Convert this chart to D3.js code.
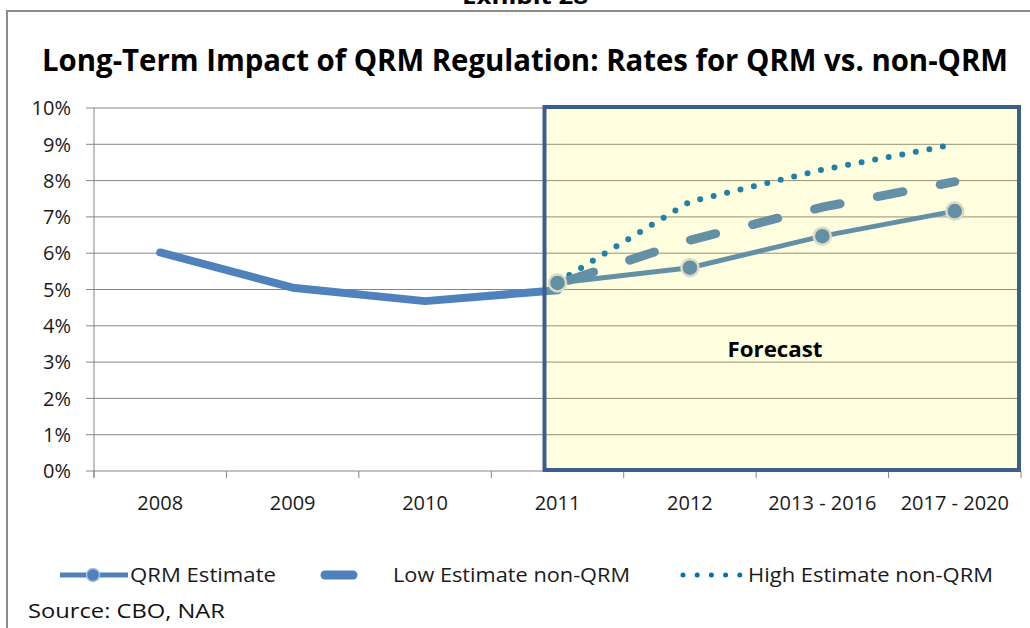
<!DOCTYPE html>
<html><head><meta charset="utf-8">
<script src="https://cdn.jsdelivr.net/npm/d3@7/dist/d3.min.js"></script>
<style>body{margin:0;background:#fff;}svg{display:block;font-family:"Open Sans","Noto Sans",sans-serif;}</style>
</head><body>
<svg id="c" width="1030" height="628"></svg>
<script>
const categories = ["2008","2009","2010","2011","2012","2013 - 2016","2017 - 2020"];
const historical = [6.02, 5.05, 4.68, 4.98, null, null, null];
const qrmEstimate = [null, null, null, 5.18, 5.6, 6.47, 7.16];
const lowEstimate = [null, null, null, 5.15, 6.36, 7.27, 7.97];
const highEstimate = [null, null, null, 5.2, 7.42, 8.3, 9.0];
const yTicks = [0,1,2,3,4,5,6,7,8,9,10];
const forecastStart = "2011";
const titleText = "Long-Term Impact of QRM Regulation: Rates for QRM vs. non-QRM";
const legendLabels = ["QRM Estimate","Low Estimate non-QRM","High Estimate non-QRM"];
const sourceText = "Source: CBO, NAR";

const svg = d3.select("#c");
const x = d3.scaleBand().domain(categories).range([94, 1021]);
const y = d3.scaleLinear().domain([0, 10]).range([471, 108]);
const cx = c => x(c) + x.bandwidth()/2;

// frame
svg.append("path").attr("d","M7,628 V11 H1030").attr("fill","none").attr("stroke","#8c8c8c").attr("stroke-width",2);
svg.append("text").attr("x",525).attr("y",4).attr("text-anchor","middle")
  .attr("font-weight","bold").attr("font-size",22).attr("textLength",126).attr("lengthAdjust","spacingAndGlyphs").text("Exhibit 28");

// title
svg.append("text").attr("x",42).attr("y",71).attr("font-weight","bold").attr("font-size",30)
  .attr("textLength",966).attr("lengthAdjust","spacingAndGlyphs").attr("fill","#000").text(titleText);

// gridlines
svg.append("g").selectAll("line").data(yTicks).join("line")
  .attr("x1",86).attr("x2",1021).attr("y1",d=>y(d)).attr("y2",d=>y(d))
  .attr("stroke","#868686").attr("stroke-width",1);
// y axis line
svg.append("line").attr("x1",94).attr("x2",94).attr("y1",108).attr("y2",478).attr("stroke","#868686");
// x ticks
const bounds = categories.map(c=>x(c)).concat([x.range()[1]]);
svg.append("g").selectAll("line").data(bounds).join("line")
  .attr("x1",d=>d).attr("x2",d=>d).attr("y1",471).attr("y2",478).attr("stroke","#868686");
// y labels
svg.append("g").selectAll("text").data(yTicks).join("text")
  .attr("x",71).attr("y",d=>y(d)).attr("dy","0.36em").attr("text-anchor","end")
  .attr("font-size",20).attr("fill","#1a1a1a").text(d=>d+"%");
// x labels
svg.append("g").selectAll("text").data(categories).join("text")
  .attr("x",d=>cx(d)).attr("y",510).attr("text-anchor","middle")
  .attr("font-size",20).attr("fill","#1a1a1a").text(d=>d);

function series(vals){ return categories.map((c,i)=>({c, v: vals[i]})).filter(d=>d.v!=null); }
const line = d3.line().x(d=>cx(d.c)).y(d=>y(d.v));

svg.append("path").datum(series(historical)).attr("d",line).attr("fill","none")
  .attr("stroke","#4f81bd").attr("stroke-width",8).attr("stroke-linecap","round").attr("stroke-linejoin","round");

svg.append("path").datum(series(highEstimate)).attr("d",line).attr("fill","none")
  .attr("stroke","#0070c0").attr("stroke-width",6).attr("stroke-linecap","round")
  .attr("stroke-dasharray","0,13.8");
svg.append("path").datum(series(lowEstimate)).attr("d",line).attr("fill","none")
  .attr("stroke","#4f81bd").attr("stroke-width",9).attr("stroke-linecap","round")
  .attr("stroke-dasharray","26,38").attr("stroke-dashoffset",-12);
svg.append("path").datum(series(qrmEstimate)).attr("d",line).attr("fill","none")
  .attr("stroke","#4f81bd").attr("stroke-width",5).attr("stroke-linejoin","round");
svg.append("g").selectAll("circle").data(series(qrmEstimate)).join("circle")
  .attr("cx",d=>cx(d.c)).attr("cy",d=>y(d.v)).attr("r",8.5)
  .attr("fill","#4f81bd").attr("stroke","#d4d8de").attr("stroke-width",2.5);

// forecast overlay
const fx0 = cx(forecastStart) - 13;
svg.append("rect").attr("x",fx0).attr("y",107).attr("width",1019-fx0).attr("height",470-107)
  .attr("fill","rgba(255,255,0,0.12)").attr("stroke","#3b5e8c").attr("stroke-width",4);
svg.append("text").attr("x",775).attr("y",357).attr("text-anchor","middle").attr("font-weight","bold")
  .attr("font-size",21).attr("textLength",95).attr("lengthAdjust","spacingAndGlyphs").text("Forecast");

// legend
const ly = 575;
const lg = svg.append("g");
lg.append("line").attr("x1",60).attr("x2",128).attr("y1",ly).attr("y2",ly).attr("stroke","#4f81bd").attr("stroke-width",5);
lg.append("circle").attr("cx",93).attr("cy",ly).attr("r",6.5).attr("fill","#4f81bd").attr("stroke","#aac0dc").attr("stroke-width",1.5);
lg.append("line").attr("x1",325).attr("x2",353).attr("y1",ly).attr("y2",ly).attr("stroke","#4f81bd").attr("stroke-width",9).attr("stroke-linecap","round");
lg.append("line").attr("x1",683).attr("x2",740).attr("y1",ly).attr("y2",ly).attr("stroke","#0070c0").attr("stroke-width",5)
  .attr("stroke-linecap","round").attr("stroke-dasharray","0,14.2");
const legendPos = [[130,146],[393,237],[748,245]];
lg.selectAll("text.l").data(legendLabels).join("text").attr("class","l")
  .attr("x",(d,i)=>legendPos[i][0]).attr("y",ly+7).attr("font-size",20).attr("fill","#1a1a1a")
  .attr("textLength",(d,i)=>legendPos[i][1]).attr("lengthAdjust","spacingAndGlyphs").text(d=>d);

svg.append("text").attr("x",28).attr("y",618).attr("font-size",20).attr("fill","#111")
  .attr("textLength",197).attr("lengthAdjust","spacingAndGlyphs").text(sourceText);
</script>
</body></html>
